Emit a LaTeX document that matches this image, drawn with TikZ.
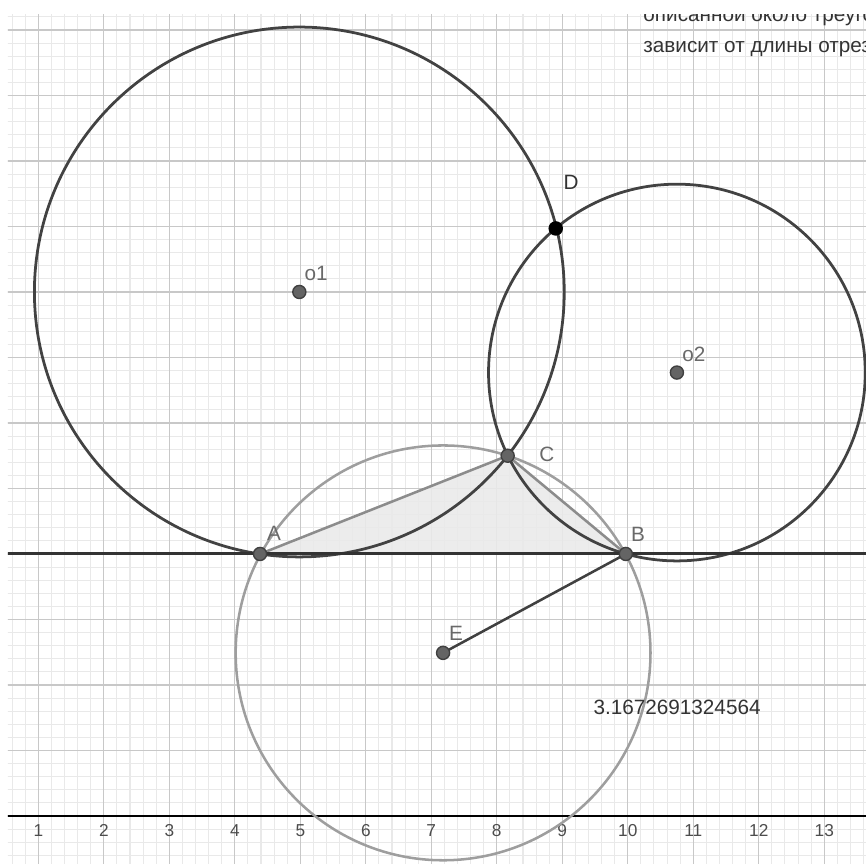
\documentclass[tikz,border=0pt]{standalone}
\usepackage{fontspec}
\setmainfont{Liberation Sans}
\usetikzlibrary{calc}
\definecolor{gridmajor}{RGB}{200,200,200}
\definecolor{gridminor}{RGB}{233,233,233}
\definecolor{circdark}{RGB}{66,66,66}
\definecolor{circlight}{RGB}{158,158,158}
\definecolor{pointgray}{RGB}{100,100,100}
\definecolor{labelgray}{RGB}{105,105,105}
\definecolor{textdark}{RGB}{51,51,51}
\definecolor{trifill}{RGB}{234,234,234}

\begin{document}
\begin{tikzpicture}[
    pt/.style={circle, draw=black!75, fill=pointgray, line width=0.6pt, inner sep=0pt, minimum size=0.2cm},
    ptlabel/.style={font=\fontsize{9}{11}\selectfont, text=labelgray, inner sep=0pt},
    ticklabel/.style={font=\fontsize{7.5}{9}\selectfont, text=black!70, inner sep=0pt, anchor=base},
    bigcircle/.style={circdark, line width=1.2pt},
    infotext/.style={font=\fontsize{9}{11}\selectfont, text=textdark, anchor=base west, inner sep=0pt}
]
\useasboundingbox (0.415,-0.733) rectangle (13.637,12.458);
\begin{scope}
    \clip (0.537,-0.733) rectangle (13.637,12.23);
    % Grid
    \draw[gridminor, line width=0.45pt, step=0.2] (0,-1) grid (14,13);
    \draw[gridmajor, line width=0.5pt, step=1] (0,-1) grid (14,13);
    % Axis
    \coordinate (axL) at (0,0);
    \coordinate (axR) at (14,0);
    \draw[black, line width=0.7pt] (axL) -- (axR);
    \foreach \k in {1,...,13} {
        \node[ticklabel] (tick\k) at (\k,-0.32) {\k};
    }
    % Points
    \coordinate (A) at (4.385,4);
    \coordinate (B) at (9.97,4);
    \coordinate (C) at (8.166,5.5);
    \coordinate (D) at (8.90,8.97);
    \coordinate (E) at (7.18,2.49);
    \coordinate (O1) at (4.985,8.0);
    \coordinate (O2) at (10.75,6.77);
    % Triangle
    \fill[trifill, opacity=0.9] (A) -- (B) -- (C) -- cycle;
    \draw[black!45, line width=1.1pt] (A) -- (C) -- (B);
    % Circumcircle
    \draw[circlight, line width=1.1pt] let \p1=($(B)-(E)$) in (E) circle ({veclen(\x1,\y1)});
    % Main circles
    \draw[bigcircle] let \p1=($(A)-(O1)$) in (O1) circle ({veclen(\x1,\y1)});
    \draw[bigcircle] let \p1=($(B)-(O2)$) in (O2) circle ({veclen(\x1,\y1)});
    % Line AB
    \coordinate (lnL) at ($(A)!-1!(B)$);
    \coordinate (lnR) at ($(B)!-1!(A)$);
    \draw[black!80, line width=1.3pt] (lnL) -- (lnR);
    % Radius EB
    \draw[black!75, line width=1.1pt] (E) -- (B);
    % Point markers
    \foreach \p in {A,B,C,E,O1,O2} {
        \node[pt] (pt\p) at (\p) {};
    }
    \node[pt, fill=black, draw=black] (ptD) at (D) {};
    % Labels
    \node[ptlabel] (labA) at (4.6,4.31) {A};
    \node[ptlabel] (labB) at (10.155,4.305) {B};
    \node[ptlabel] (labC) at (8.766,5.527) {C};
    \node[ptlabel, text=black!80] (labD) at (9.133,9.679) {D};
    \node[ptlabel] (labO1) at (5.24,8.29) {o1};
    \node[ptlabel] (labO2) at (11.01,7.053) {o2};
    \node[ptlabel] (labE) at (7.377,2.794) {E};
    \node[infotext, anchor=west] (radius) at (9.47,1.664) {3.1672691324564};
    % Text at top
    \node[infotext] (txt1) at (10.232,12.137) {описанной около треугольника};
    \node[infotext] (txt2) at (10.232,11.65) {зависит от длины отрезка};
\end{scope}
\end{tikzpicture}
\end{document}
